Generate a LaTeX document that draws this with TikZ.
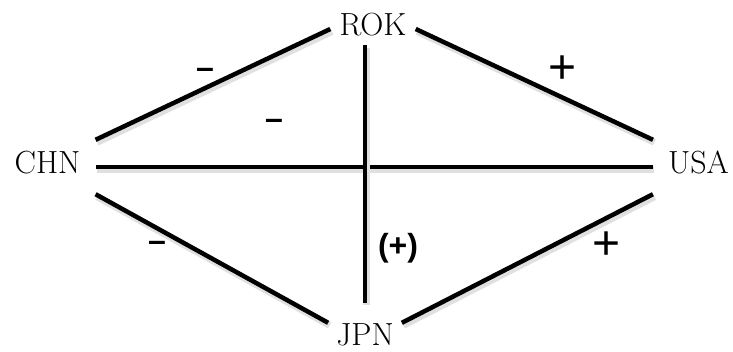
\documentclass[tikz,border=0pt]{standalone}
\usepackage{fontspec}
\newfontfamily\signfont{Liberation Sans}
\usepackage{tikz}

\begin{document}
\begin{tikzpicture}[
    x=1pt, y=-1pt,
    % Estilo para los paises
    pais/.style={
        font=\fontsize{32}{38}\selectfont,
        text height=22pt,
        text depth=10pt,
        inner xsep=15pt,
        inner ysep=11pt
    },
    % Estilo para los signos de la relacion
    signo/.style={
        font=\signfont\bfseries\fontsize{32}{36}\selectfont,
        inner sep=0pt
    },
    % Signo mas suelto (mas grande y fino)
    mas/.style={
        font=\signfont\fontsize{48}{50}\selectfont,
        inner sep=0pt
    },
    % Estilo para las lineas (con sombra suave)
    linea/.style={
        line width=4.5pt,
        color=black,
        preaction={draw=black!12, line width=7pt,
            transform canvas={shift={(1.5pt,-2.5pt)}}}
    }
]
    \useasboundingbox (0,0) rectangle (733,351);

    % --- PAISES ---
    \node[pais, inner xsep=9pt, inner ysep=0pt] (rok) at (373,29)  {ROK};
    \node[pais] (chn) at (47.5,167) {CHN};
    \node[pais] (usa) at (698.5,167) {USA};
    \node[pais, inner xsep=8pt, inner ysep=0pt] (jpn) at (365,339) {JPN};

    % --- RELACIONES ---
    \draw[linea] (chn.north east) -- (rok.west);
    \draw[linea] (rok.east) -- (usa.north west);
    \draw[linea] (chn.east) -- (usa.west);
    \draw[linea, shorten >=20pt] (jpn.north |- rok.south) -- (jpn.north);
    \draw[linea] (chn.south east) -- (jpn.north west);
    \draw[linea] (usa.south west) -- (jpn.north east);

    % --- SIGNOS ---
    \node[signo] (chnrok) at (205,73)  {–};
    \node[mas]   (rokusa) at (563,70)  {+};
    \node[signo] (chnusa) at (274,124) {–};
    \node[signo] (chnjpn) at (157,246) {–};
    \node[signo] (rokjpn) at (398,248) {(+)};
    \node[mas]   (usajpn) at (607,246) {+};

\end{tikzpicture}
\end{document}
